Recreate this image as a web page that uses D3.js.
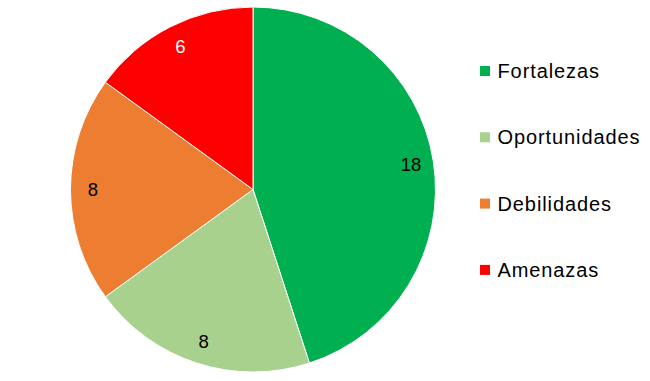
<!DOCTYPE html>
<html><head><meta charset="utf-8">
<script src="https://cdn.jsdelivr.net/npm/d3@7"></script>
<style>body{margin:0;background:#fff}svg{display:block;font-family:"Liberation Sans",Arial,sans-serif}</style>
</head><body>
<svg id="c" width="650" height="381"></svg>
<script>
const categories = ["Fortalezas","Oportunidades","Debilidades","Amenazas"];
const values = [18, 8, 8, 6];
const colors = ["#00B050","#A9D18E","#ED7D31","#FF0000"];
const labelColors = ["#000","#000","#000","#fff"];

const svg = d3.select("#c");
const cx = 253, cy = 189.5, R = 182.5;
const pie = d3.pie().sort(null).value(d => d)(values);
const arc = d3.arc().innerRadius(0).outerRadius(R);
const g = svg.append("g").attr("transform", `translate(${cx},${cy})`);
g.selectAll("path").data(pie).join("path")
  .attr("d", arc).attr("fill", (d,i) => colors[i])
  .attr("stroke", "#fff").attr("stroke-width", 1);
const lab = d3.arc().innerRadius(160).outerRadius(160);
g.selectAll("text").data(pie).join("text")
  .attr("transform", d => `translate(${lab.centroid(d)})`)
  .attr("text-anchor","middle").attr("dominant-baseline","central")
  .attr("font-size", 18.5).attr("fill", (d,i) => labelColors[i])
  .text(d => d.data);

const leg = svg.append("g").attr("transform","translate(480,71)");
const rows = leg.selectAll("g").data(categories).join("g")
  .attr("transform", (d,i) => `translate(0,${i*66.3})`);
rows.append("rect").attr("x",0).attr("y",-5).attr("width",10).attr("height",10)
  .attr("fill", (d,i) => colors[i]);
rows.append("text").attr("x",17.5).attr("y",0).attr("dominant-baseline","central")
  .attr("font-size",20).attr("letter-spacing",0.9).attr("fill","#000").text(d => d);
</script>
</body></html>
